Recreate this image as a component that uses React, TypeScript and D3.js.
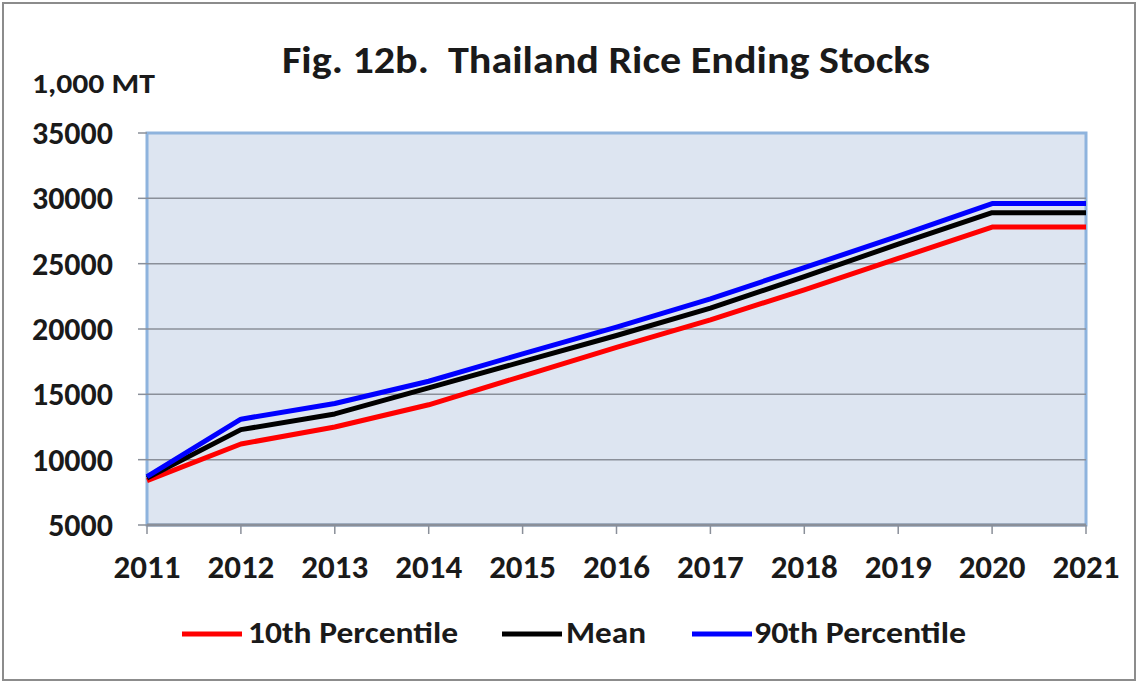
import React from "react";
import * as d3 from "d3";

const years = [2011, 2012, 2013, 2014, 2015, 2016, 2017, 2018, 2019, 2020, 2021];
const p10 = [8400, 11200, 12500, 14200, 16400, 18600, 20700, 23000, 25400, 27800, 27800];
const mean = [8600, 12300, 13500, 15500, 17500, 19500, 21600, 24000, 26500, 28900, 28900];
const p90 = [8700, 13100, 14300, 16000, 18100, 20150, 22300, 24700, 27100, 29600, 29600];
const yTicks = [5000, 10000, 15000, 20000, 25000, 30000, 35000];

const seriesList = [
  { name: "10th Percentile", values: p10, color: "#ff0000" },
  { name: "Mean", values: mean, color: "#000000" },
  { name: "90th Percentile", values: p90, color: "#0000ff" },
];

export default function App() {
  const W = 1139, H = 684;
  const left = 147, right = 1086, top = 133, bottom = 525;
  const x = d3.scaleLinear().domain([2011, 2021]).range([left, right]);
  const y = d3.scaleLinear().domain([5000, 35000]).range([bottom, top]);
  const line = d3.line<number>().x((_, i) => x(years[i])).y((d) => y(d));
  const font = "Calibri, Carlito, 'Open Sans', 'DejaVu Sans', sans-serif";
  const legendItems = [
    { lx: 182, tx: 248, tw: 210 },
    { lx: 502, tx: 566, tw: 80 },
    { lx: 692, tx: 754, tw: 212 },
  ];
  return (
    <svg width={W} height={H} style={{ position: "absolute", left: 0, top: 0, background: "#fff" }}>
      <rect x={3} y={3} width={1132} height={677} fill="#fff" stroke="#8c8c8c" strokeWidth={2} />
      <text x={282} y={73} fontFamily={font} fontSize={39} fontWeight="bold" fill="#1a1a1a"
        textLength={648} lengthAdjust="spacingAndGlyphs" xmlSpace="preserve">
        Fig. 12b.  Thailand Rice Ending Stocks
      </text>
      <text x={32} y={93} fontFamily={font} fontSize={28} fontWeight="bold" fill="#1a1a1a"
        textLength={123} lengthAdjust="spacingAndGlyphs">
        1,000 MT
      </text>
      <rect x={left} y={top} width={right - left} height={bottom - top} fill="#dde5f1" stroke="#8eb3dd" strokeWidth={3} />
      {yTicks.map((t) => (
        <g key={t}>
          {t !== 35000 && t !== 5000 && (
            <line x1={left} x2={right} y1={y(t)} y2={y(t)} stroke="#8a8f99" strokeWidth={1.5} />
          )}
          <line x1={left - 9} x2={left} y1={y(t)} y2={y(t)} stroke="#8a8f99" strokeWidth={1.5} />
          <text x={113} y={y(t) + 11} textAnchor="end" fontFamily={font} fontSize={32} fontWeight="bold" fill="#1a1a1a">
            {t}
          </text>
        </g>
      ))}
      <line x1={left} x2={right} y1={bottom} y2={bottom} stroke="#8a8f99" strokeWidth={3} />
      {years.map((yr) => (
        <g key={yr}>
          <line x1={x(yr)} x2={x(yr)} y1={bottom} y2={bottom + 9} stroke="#8a8f99" strokeWidth={1.5} />
          <text x={x(yr)} y={578} textAnchor="middle" fontFamily={font} fontSize={33} fontWeight="bold" fill="#1a1a1a">
            {yr}
          </text>
        </g>
      ))}
      {seriesList.map((s) => (
        <path key={s.name} d={line(s.values) || ""} fill="none" stroke={s.color} strokeWidth={5} strokeLinejoin="round" />
      ))}
      {seriesList.map((s, i) => (
        <g key={s.name}>
          <line x1={legendItems[i].lx} x2={legendItems[i].lx + 60} y1={634} y2={634} stroke={s.color} strokeWidth={5} />
          <text x={legendItems[i].tx} y={643} fontFamily={font} fontSize={30} fontWeight="bold" fill="#1a1a1a"
            textLength={legendItems[i].tw} lengthAdjust="spacingAndGlyphs">
            {s.name}
          </text>
        </g>
      ))}
    </svg>
  );
}
